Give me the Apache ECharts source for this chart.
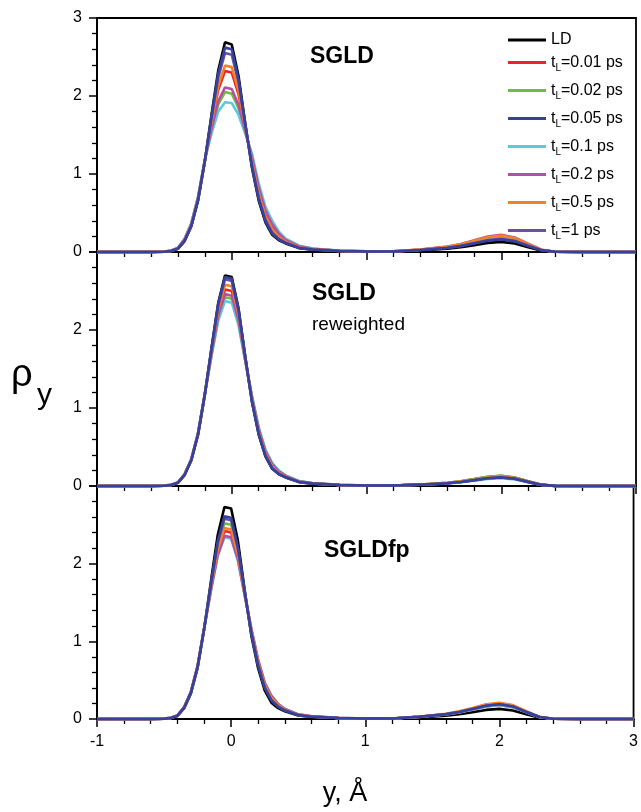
<!DOCTYPE html>
<html><head><meta charset="utf-8">
<script src="https://cdn.jsdelivr.net/npm/echarts@6/dist/echarts.min.js"></script>
<style>html,body{margin:0;padding:0;background:#fff}#c{width:641px;height:812px}</style>
</head><body><div id="c"></div><script>
// x positions (y, Å)
const X = [-1, -0.6, -0.5, -0.45, -0.4, -0.35, -0.3, -0.25, -0.2, -0.15, -0.1, -0.05, 0, 0.05, 0.1, 0.15, 0.2, 0.25, 0.3, 0.35, 0.4, 0.5, 0.6, 0.8, 1.0, 1.2, 1.4, 1.6, 1.7, 1.8, 1.9, 2.0, 2.1, 2.2, 2.3, 2.4, 2.6, 3.0];

// Panel 1: SGLD
const sgldLD  = [0, 0, 0.004, 0.012, 0.04, 0.14, 0.33, 0.66, 1.16, 1.76, 2.33, 2.69, 2.66, 2.26, 1.65, 1.08, 0.66, 0.38, 0.22, 0.15, 0.11, 0.05, 0.03, 0.012, 0.006, 0.006, 0.02, 0.042, 0.061, 0.088, 0.117, 0.13, 0.11, 0.062, 0.017, 0.003, 0, 0];
const sgld001 = [0, 0, 0.005, 0.015, 0.047, 0.154, 0.349, 0.684, 1.17, 1.646, 2.079, 2.32, 2.30, 2.023, 1.588, 1.165, 0.764, 0.475, 0.305, 0.202, 0.138, 0.064, 0.037, 0.015, 0.007, 0.008, 0.029, 0.064, 0.094, 0.136, 0.18, 0.20, 0.17, 0.096, 0.026, 0.004, 0, 0];
const sgld002 = [0, 0, 0.006, 0.017, 0.052, 0.165, 0.363, 0.701, 1.177, 1.561, 1.891, 2.05, 2.03, 1.845, 1.542, 1.229, 0.842, 0.546, 0.369, 0.241, 0.16, 0.075, 0.042, 0.017, 0.0085, 0.008, 0.028, 0.061, 0.089, 0.129, 0.171, 0.19, 0.162, 0.091, 0.025, 0.004, 0, 0];
const sgld005 = [0, 0, 0.004, 0.012, 0.041, 0.142, 0.333, 0.664, 1.162, 1.741, 2.288, 2.62, 2.60, 2.22, 1.64, 1.094, 0.677, 0.396, 0.234, 0.159, 0.115, 0.052, 0.031, 0.012, 0.006, 0.007, 0.024, 0.051, 0.075, 0.109, 0.144, 0.16, 0.136, 0.077, 0.021, 0.003, 0, 0];
const sgld01  = [0, 0, 0.006, 0.018, 0.055, 0.17, 0.37, 0.71, 1.18, 1.52, 1.80, 1.92, 1.91, 1.76, 1.52, 1.26, 0.88, 0.58, 0.40, 0.26, 0.17, 0.08, 0.045, 0.018, 0.009, 0.009, 0.029, 0.064, 0.094, 0.136, 0.18, 0.20, 0.17, 0.096, 0.026, 0.004, 0, 0];
const sgld02  = [0, 0, 0.0055, 0.0165, 0.051, 0.163, 0.36, 0.698, 1.175, 1.58, 1.933, 2.11, 2.09, 1.885, 1.553, 1.215, 0.825, 0.53, 0.355, 0.233, 0.155, 0.073, 0.041, 0.0165, 0.008, 0.009, 0.031, 0.07, 0.103, 0.15, 0.198, 0.22, 0.187, 0.106, 0.029, 0.004, 0, 0];
const sgld05  = [0, 0, 0.005, 0.014, 0.046, 0.151, 0.345, 0.679, 1.168, 1.668, 2.128, 2.39, 2.37, 2.069, 1.60, 1.149, 0.744, 0.456, 0.289, 0.192, 0.133, 0.061, 0.036, 0.014, 0.007, 0.008, 0.03, 0.067, 0.099, 0.143, 0.189, 0.21, 0.179, 0.101, 0.027, 0.004, 0, 0];
const sgld1   = [0, 0, 0.004, 0.013, 0.043, 0.145, 0.337, 0.669, 1.163, 1.719, 2.239, 2.55, 2.53, 2.175, 1.628, 1.111, 0.698, 0.414, 0.251, 0.169, 0.12, 0.055, 0.033, 0.013, 0.0065, 0.007, 0.025, 0.054, 0.08, 0.116, 0.153, 0.17, 0.145, 0.082, 0.022, 0.003, 0, 0];

// Panel 2: SGLD reweighted
const rwLD  = [0, 0, 0.004, 0.012, 0.04, 0.14, 0.33, 0.66, 1.17, 1.77, 2.35, 2.70, 2.68, 2.28, 1.66, 1.08, 0.66, 0.38, 0.22, 0.15, 0.11, 0.05, 0.03, 0.012, 0.006, 0.006, 0.017, 0.035, 0.052, 0.075, 0.099, 0.11, 0.094, 0.053, 0.014, 0.002, 0, 0];
const rw001 = [0, 0, 0.005, 0.013, 0.044, 0.147, 0.339, 0.672, 1.175, 1.713, 2.224, 2.52, 2.50, 2.161, 1.629, 1.123, 0.712, 0.427, 0.263, 0.176, 0.124, 0.057, 0.034, 0.013, 0.007, 0.007, 0.02, 0.042, 0.061, 0.088, 0.117, 0.13, 0.11, 0.062, 0.017, 0.003, 0, 0];
const rw002 = [0, 0, 0.005, 0.014, 0.045, 0.151, 0.345, 0.678, 1.177, 1.682, 2.155, 2.42, 2.40, 2.096, 1.612, 1.146, 0.741, 0.454, 0.286, 0.19, 0.132, 0.061, 0.036, 0.014, 0.007, 0.007, 0.02, 0.042, 0.061, 0.088, 0.117, 0.13, 0.11, 0.062, 0.017, 0.003, 0, 0];
const rw005 = [0, 0, 0.004, 0.012, 0.04, 0.141, 0.331, 0.661, 1.17, 1.764, 2.336, 2.68, 2.66, 2.267, 1.657, 1.085, 0.666, 0.385, 0.225, 0.153, 0.112, 0.051, 0.03, 0.012, 0.006, 0.006, 0.017, 0.035, 0.052, 0.075, 0.099, 0.11, 0.094, 0.053, 0.014, 0.002, 0, 0];
const rw01  = [0, 0, 0.005, 0.015, 0.047, 0.153, 0.347, 0.682, 1.179, 1.666, 2.12, 2.37, 2.35, 2.063, 1.604, 1.158, 0.755, 0.467, 0.298, 0.198, 0.136, 0.063, 0.037, 0.015, 0.007, 0.007, 0.016, 0.032, 0.047, 0.068, 0.09, 0.10, 0.085, 0.048, 0.013, 0.002, 0, 0];
const rw02  = [0, 0, 0.005, 0.014, 0.045, 0.149, 0.343, 0.676, 1.176, 1.694, 2.183, 2.46, 2.44, 2.122, 1.619, 1.137, 0.73, 0.443, 0.277, 0.185, 0.129, 0.059, 0.035, 0.014, 0.007, 0.007, 0.017, 0.035, 0.052, 0.075, 0.099, 0.11, 0.094, 0.053, 0.014, 0.002, 0, 0];
const rw05  = [0, 0, 0.004, 0.013, 0.042, 0.145, 0.336, 0.668, 1.173, 1.732, 2.266, 2.58, 2.56, 2.201, 1.639, 1.108, 0.695, 0.412, 0.248, 0.167, 0.119, 0.055, 0.032, 0.013, 0.006, 0.006, 0.019, 0.038, 0.056, 0.082, 0.108, 0.12, 0.102, 0.058, 0.016, 0.002, 0, 0];
const rw1   = [0, 0, 0.004, 0.012, 0.041, 0.142, 0.333, 0.663, 1.171, 1.754, 2.315, 2.65, 2.63, 2.247, 1.651, 1.092, 0.675, 0.393, 0.232, 0.157, 0.114, 0.052, 0.031, 0.012, 0.006, 0.006, 0.017, 0.035, 0.052, 0.075, 0.099, 0.11, 0.094, 0.053, 0.014, 0.002, 0, 0];

// Panel 3: SGLDfp
const fpLD  = [0, 0, 0.004, 0.012, 0.04, 0.14, 0.33, 0.66, 1.17, 1.78, 2.37, 2.73, 2.71, 2.30, 1.67, 1.08, 0.66, 0.37, 0.21, 0.14, 0.10, 0.045, 0.027, 0.011, 0.006, 0.006, 0.02, 0.042, 0.061, 0.088, 0.117, 0.13, 0.11, 0.062, 0.017, 0.003, 0, 0];
const fp001 = [0, 0, 0.005, 0.014, 0.046, 0.152, 0.346, 0.68, 1.178, 1.682, 2.154, 2.42, 2.40, 2.096, 1.617, 1.153, 0.75, 0.452, 0.283, 0.185, 0.124, 0.057, 0.033, 0.013, 0.007, 0.007, 0.027, 0.058, 0.085, 0.122, 0.162, 0.18, 0.153, 0.086, 0.023, 0.004, 0, 0];
const fp002 = [0, 0, 0.005, 0.013, 0.044, 0.148, 0.341, 0.674, 1.176, 1.714, 2.224, 2.52, 2.50, 2.162, 1.634, 1.13, 0.721, 0.425, 0.26, 0.17, 0.117, 0.053, 0.031, 0.012, 0.006, 0.007, 0.028, 0.061, 0.089, 0.129, 0.171, 0.19, 0.162, 0.091, 0.025, 0.004, 0, 0];
const fp005 = [0, 0, 0.004, 0.013, 0.042, 0.145, 0.336, 0.668, 1.173, 1.742, 2.286, 2.61, 2.59, 2.221, 1.649, 1.108, 0.695, 0.402, 0.238, 0.157, 0.109, 0.05, 0.029, 0.012, 0.006, 0.007, 0.028, 0.061, 0.089, 0.129, 0.171, 0.19, 0.162, 0.091, 0.025, 0.004, 0, 0];
const fp01  = [0, 0, 0.005, 0.015, 0.048, 0.155, 0.35, 0.686, 1.18, 1.657, 2.098, 2.34, 2.32, 2.043, 1.603, 1.172, 0.773, 0.473, 0.302, 0.196, 0.131, 0.06, 0.035, 0.014, 0.007, 0.007, 0.027, 0.058, 0.085, 0.122, 0.162, 0.18, 0.153, 0.086, 0.023, 0.004, 0, 0];
const fp02  = [0, 0, 0.005, 0.015, 0.047, 0.155, 0.349, 0.684, 1.18, 1.663, 2.112, 2.36, 2.34, 2.057, 1.607, 1.168, 0.767, 0.467, 0.298, 0.194, 0.129, 0.06, 0.034, 0.014, 0.007, 0.007, 0.029, 0.064, 0.094, 0.136, 0.18, 0.20, 0.17, 0.096, 0.026, 0.004, 0, 0];
const fp05  = [0, 0, 0.005, 0.014, 0.045, 0.151, 0.344, 0.678, 1.177, 1.695, 2.182, 2.46, 2.44, 2.122, 1.624, 1.144, 0.738, 0.441, 0.274, 0.179, 0.121, 0.056, 0.032, 0.013, 0.007, 0.007, 0.03, 0.067, 0.099, 0.143, 0.189, 0.21, 0.179, 0.101, 0.027, 0.004, 0, 0];
const fp1   = [0, 0, 0.004, 0.013, 0.043, 0.146, 0.338, 0.67, 1.174, 1.733, 2.266, 2.58, 2.56, 2.20, 1.644, 1.115, 0.703, 0.409, 0.245, 0.162, 0.112, 0.051, 0.03, 0.012, 0.006, 0.007, 0.028, 0.061, 0.089, 0.129, 0.171, 0.19, 0.162, 0.091, 0.025, 0.004, 0, 0];

const seriesNames  = ['LD', 'tL=0.01 ps', 'tL=0.02 ps', 'tL=0.05 ps', 'tL=0.1 ps', 'tL=0.2 ps', 'tL=0.5 ps', 'tL=1 ps'];
const seriesColors = ['#000000', '#ec2227', '#6cbd45', '#35419a', '#5ec8dc', '#b4509f', '#f58025', '#6a51a2'];
const panelTitles  = ['SGLD', 'SGLD', 'SGLDfp'];
const panelData = [
  [sgldLD, sgld001, sgld002, sgld005, sgld01, sgld02, sgld05, sgld1],
  [rwLD, rw001, rw002, rw005, rw01, rw02, rw05, rw1],
  [fpLD, fp001, fp002, fp005, fp01, fp02, fp05, fp1]
];
const xTickLabels = ['-1', '0', '1', '2', '3'];
const drawOrder = [0, 1, 2, 4, 5, 6, 7, 3];

const FONT = "'Liberation Sans', Arial, Helvetica, sans-serif";
const L = 97, R = 5;
const panels = [{top: 18, height: 234}, {top: 252, height: 234}, {top: 486, height: 233}];

const grids = [], xAxes = [], yAxes = [], series = [];
panels.forEach((p, i) => {
  grids.push({left: L, right: R, top: p.top, height: p.height, show: true,
    borderColor: '#000', borderWidth: 1.8, backgroundColor: 'transparent'});
  xAxes.push({type: 'value', gridIndex: i, min: -1, max: 3, interval: 1,
    axisLine: {show: true, onZero: false, lineStyle: {color: '#000', width: 1.8}},
    axisTick: {show: true, inside: false, length: 8, lineStyle: {color: '#000', width: 1.5}},
    minorTick: {show: true, splitNumber: 5, length: 5, lineStyle: {color: '#000', width: 1.3}},
    splitLine: {show: false},
    axisLabel: {show: i === 2, color: '#000', fontSize: 16, fontFamily: FONT, margin: 15,
      formatter: v => xTickLabels[Math.round(v) + 1]}
  });
  yAxes.push({type: 'value', gridIndex: i, min: 0, max: 3, interval: 1,
    axisLine: {show: true, onZero: false, lineStyle: {color: '#000', width: 1.8}},
    axisTick: {show: true, inside: false, length: 8, lineStyle: {color: '#000', width: 1.5}},
    minorTick: {show: true, splitNumber: 5, length: 5, lineStyle: {color: '#000', width: 1.3}},
    splitLine: {show: false},
    axisLabel: {color: '#000', fontSize: 16, fontFamily: FONT, margin: 15,
      formatter: v => (i > 0 && v === 3) ? '' : String(v)}
  });
  drawOrder.forEach(k => {
    series.push({
      type: 'line', name: seriesNames[k], xAxisIndex: i, yAxisIndex: i,
      data: X.map((x, j) => [x, panelData[i][k][j]]),
      symbol: 'none', showSymbol: false, clip: false,
      lineStyle: {color: seriesColors[k], width: 2.6},
      itemStyle: {color: seriesColors[k]},
      emphasis: {disabled: true}, animation: false
    });
  });
});

const legendBase = {
  orient: 'vertical', left: 503, icon: 'rect', itemWidth: 38, itemHeight: 3,
  itemGap: 7, selectedMode: false,
  textStyle: {color: '#000', fontSize: 16, fontFamily: FONT, lineHeight: 20,
    rich: {sub: {fontSize: 10, fontFamily: FONT, lineHeight: 20, padding: [11, 0, 0, 0]}}},
  formatter: n => n === 'LD' ? 'LD' : 't{sub|L}' + n.slice(2)
};

const option = {
  animation: false,
  backgroundColor: '#fff',
  textStyle: {fontFamily: FONT},
  grid: grids, xAxis: xAxes, yAxis: yAxes, series: series,
  legend: [
    Object.assign({}, legendBase, {top: 25, data: ['LD']}),
    Object.assign({}, legendBase, {top: 47, data: seriesNames.slice(1)})
  ],
  graphic: [
    {type: 'text', x: 310, y: 57, style: {text: panelTitles[0], font: 'bold 23px ' + FONT, fill: '#000', verticalAlign: 'middle'}},
    {type: 'text', x: 312, y: 294, style: {text: panelTitles[1], font: 'bold 23px ' + FONT, fill: '#000', verticalAlign: 'middle'}},
    {type: 'text', x: 312, y: 325, style: {text: 'reweighted', font: '19px ' + FONT, fill: '#000', verticalAlign: 'middle'}},
    {type: 'text', x: 324, y: 551, style: {text: panelTitles[2], font: 'bold 23px ' + FONT, fill: '#000', verticalAlign: 'middle'}},
    {type: 'text', x: 11, y: 376, style: {text: 'ρ', font: '38px ' + FONT, fill: '#000', verticalAlign: 'middle'}},
    {type: 'text', x: 37, y: 396, style: {text: 'y', font: '30px ' + FONT, fill: '#000', verticalAlign: 'middle'}},
    {type: 'text', x: 345, y: 794, style: {text: 'y, Å', font: '27px ' + FONT, fill: '#000', align: 'center', verticalAlign: 'middle'}}
  ]
};
const chart = echarts.init(document.getElementById('c'), null, {renderer: 'canvas'});
chart.setOption(option);
</script></body></html>
